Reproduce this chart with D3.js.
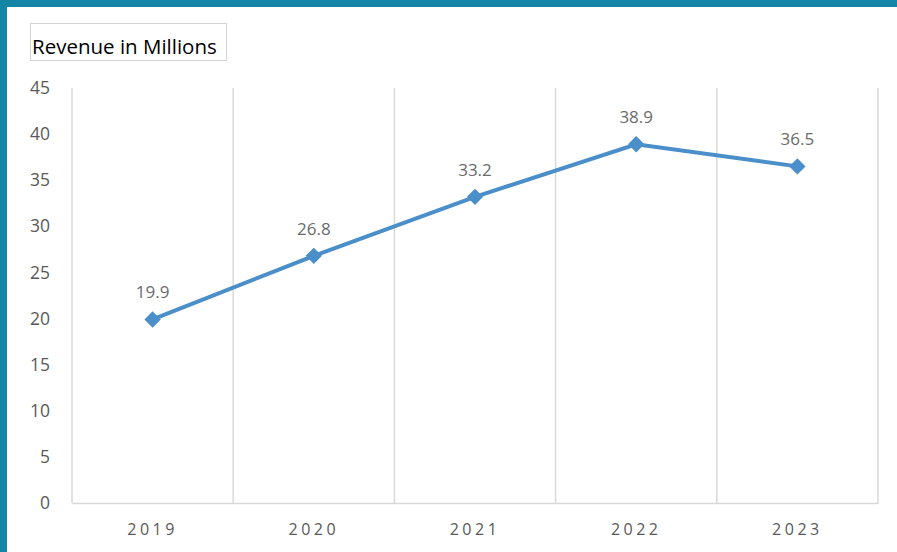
<!DOCTYPE html>
<html>
<head>
<meta charset="utf-8">
<script src="https://cdn.jsdelivr.net/npm/d3@7"></script>
<style>
  body { margin: 0; background: #fff; }
  svg { display: block; font-family: "Open Sans", sans-serif; }
</style>
</head>
<body>
<div id="chart"></div>
<script>
// Data
const years = ["2019", "2020", "2021", "2022", "2023"];
const revenue = [19.9, 26.8, 33.2, 38.9, 36.5];
const yTicks = [0, 5, 10, 15, 20, 25, 30, 35, 40, 45];

const width = 897;
const height = 552;
const margin = { top: 88, right: 19, bottom: 49, left: 72 };

const svg = d3.select("#chart")
  .append("svg")
  .attr("width", width)
  .attr("height", height);

// teal frame on top and left
svg.append("rect").attr("x", 0).attr("y", 0).attr("width", width).attr("height", 7).attr("fill", "#1585a5");
svg.append("rect").attr("x", 0).attr("y", 0).attr("width", 7).attr("height", height).attr("fill", "#1585a5");

const x = d3.scaleBand()
  .domain(years)
  .range([margin.left, width - margin.right])
  .padding(0);

const y = d3.scaleLinear()
  .domain([0, 45])
  .range([height - margin.bottom, margin.top]);

// vertical gridlines at band edges
const edges = years.map(d => x(d)).concat([x(years[years.length - 1]) + x.bandwidth()]);
svg.append("g")
  .selectAll("line")
  .data(edges)
  .join("line")
  .attr("x1", d => d)
  .attr("x2", d => d)
  .attr("y1", y(45))
  .attr("y2", y(0))
  .attr("stroke", "#d9d9d9")
  .attr("stroke-width", 1.5);

// y axis
const yAxis = svg.append("g")
  .attr("transform", `translate(${margin.left},0)`)
  .call(d3.axisLeft(y).tickValues(yTicks).tickSize(0).tickPadding(22));
yAxis.select(".domain").remove();
yAxis.attr("font-family", "Open Sans, sans-serif");
yAxis.selectAll("text").attr("fill", "#595959").style("font-size", "17.5px");

// x axis
const xAxis = svg.append("g")
  .attr("transform", `translate(0,${y(0)})`)
  .call(d3.axisBottom(x).tickSize(0).tickPadding(21));
xAxis.attr("font-family", "Open Sans, sans-serif");
xAxis.select(".domain").attr("stroke", "#d9d9d9").attr("stroke-width", 1.5);
xAxis.selectAll("text").attr("fill", "#595959").style("font-size", "16px").style("letter-spacing", "3.5px");

// line
const line = d3.line()
  .x((d, i) => x(years[i]) + x.bandwidth() / 2)
  .y(d => y(d));

svg.append("path")
  .datum(revenue)
  .attr("fill", "none")
  .attr("stroke", "#4a8fca")
  .attr("stroke-width", 4)
  .attr("d", line);

// diamond markers
svg.append("g")
  .selectAll("path")
  .data(revenue)
  .join("path")
  .attr("transform", (d, i) => `translate(${x(years[i]) + x.bandwidth() / 2},${y(d)})`)
  .attr("d", d3.symbol(d3.symbolDiamond2, 170))
  .attr("fill", "#4a8fca");

// data labels
svg.append("g")
  .selectAll("text")
  .data(revenue)
  .join("text")
  .attr("x", (d, i) => x(years[i]) + x.bandwidth() / 2)
  .attr("y", d => y(d) - 21)
  .attr("text-anchor", "middle")
  .attr("fill", "#6b6b6b")
  .style("font-size", "17px")
  .text(d => d.toFixed(1));

// title box
svg.append("rect")
  .attr("x", 30.5)
  .attr("y", 23.5)
  .attr("width", 196)
  .attr("height", 37)
  .attr("fill", "#fff")
  .attr("stroke", "#d4d4d4");

svg.append("text")
  .attr("x", 32)
  .attr("y", 54)
  .attr("fill", "#000")
  .style("font-size", "20.5px")
  .text("Revenue in Millions");
</script>
</body>
</html>
